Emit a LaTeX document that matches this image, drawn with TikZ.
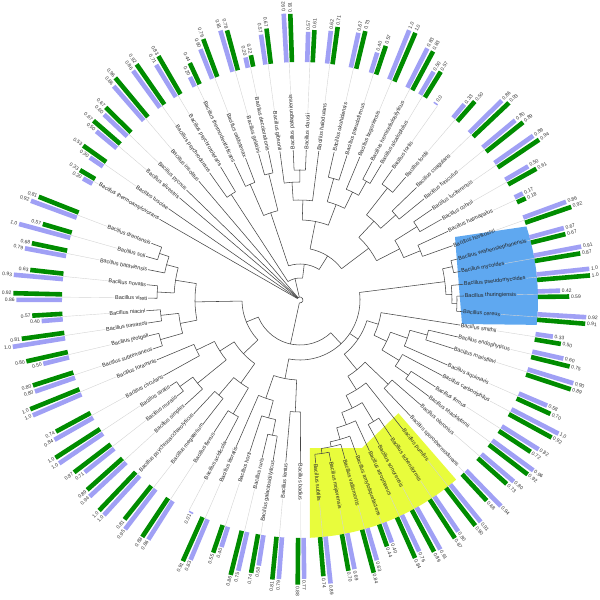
\documentclass[tikz,border=0pt]{standalone}
\usepackage{fontspec}
\setmainfont{Liberation Sans}
\definecolor{bargreen}{RGB}{0,140,0}
\definecolor{barlav}{RGB}{160,160,245}
\definecolor{cerblue}{RGB}{95,168,240}
\definecolor{subyel}{RGB}{232,252,60}
\definecolor{treegray}{RGB}{70,70,70}
\definecolor{conngray}{RGB}{212,212,212}
\newcommand\nd[4]{%
  \draw[tree] (#2:#1pt) arc[start angle=#2,end angle=#3,radius=#1pt];
  \foreach \qa/\qb in {#4}{\draw[tree] (\qa:#1pt) -- (\qa:\qb pt);}}
\begin{document}
\begin{tikzpicture}[x=1pt,y=1pt,
  tree/.style={draw=treegray,line width=0.55pt},
  conn/.style={draw=conngray,line width=0.4pt},
  lbl/.style={font=\fontsize{5.5}{6}\selectfont,text=black!85,inner sep=0.6pt},
  val/.style={font=\fontsize{5}{6}\selectfont,text=black!80,inner sep=0.8pt},
  gbar/.style={draw=bargreen,line width=4.6pt},
  lbar/.style={draw=barlav,line width=4.6pt}]
\useasboundingbox (-300,-300) rectangle (300,300);
\fill[white] (-300,-300) rectangle (300,300);
% clade shadings
\fill[cerblue] (155,63) -- (18:238pt) arc[start angle=18,end angle=-6,radius=238pt] -- (162,-24) -- cycle;
\fill[subyel] (10,-148) -- (62,-148) -- (-49:150pt) -- (-49:238pt) arc[start angle=-49,end angle=-87.6,radius=238pt] -- cycle;
% ---------- tree ----------
% left group
\nd{148}{159.1}{164.2}{159.1/159,164.2/160}
\nd{138}{161.65}{168.7}{161.65/148,168.7/155}
\nd{143}{174.3}{179.3}{174.3/154,179.3/152}
\nd{126}{165.18}{176.8}{165.18/138,176.8/143}
\nd{140}{184}{188.6}{184/154,188.6/154}
\nd{145}{193.3}{198.4}{193.3/155,198.4/155}
\nd{122}{186.3}{195.85}{186.3/140,195.85/145}
\nd{105}{170.99}{191.08}{170.99/126,191.08/122}
\nd{148}{213.5}{218}{213.5/156,218/156}
\nd{132}{215.75}{222.4}{215.75/148,222.4/156}
\nd{115}{202.7}{209}{202.7/155,209/156}
\nd{95}{205.85}{219.08}{205.85/115,219.08/132}
\nd{125}{227}{232}{227/156,232/157}
\nd{132}{237}{242.2}{237/158,242.2/160}
\nd{102}{229.5}{239.6}{229.5/125,239.6/132}
\nd{78}{212.46}{234.55}{212.46/95,234.55/102}
\nd{58}{181.04}{223.5}{181.04/105,223.5/78}
% bottom group
\nd{138}{256.5}{260.5}{256.5/162,260.5/162}
\nd{122}{251.7}{258.5}{251.7/160,258.5/138}
\nd{104}{246.5}{255.1}{246.5/160,255.1/122}
\nd{112}{265}{270.2}{265/163,270.2/163}
\nd{80}{250.8}{267.6}{250.8/104,267.6/112}
% subtilis group
\nd{155}{275.5}{280.8}{275.5/164,280.8/164}
\nd{150}{278.15}{285.8}{278.15/155,285.8/165}
\nd{145}{281.98}{290.1}{281.98/150,290.1/165}
\nd{133}{286.04}{294.7}{286.04/145,294.7/166}
\nd{142}{298.7}{303.7}{298.7/165,303.7/165}
\nd{120}{290.37}{301.2}{290.37/133,301.2/142}
\nd{106}{295.79}{308.5}{295.79/120,308.5/165}
\nd{122}{313.6}{319}{313.6/160,319/160}
\nd{90}{302.15}{316.3}{302.15/106,316.3/122}
% lower right
\nd{132}{323.2}{327.3}{323.2/161,327.3/161}
\nd{116}{325.25}{332}{325.25/132,332/161}
\nd{132}{342.4}{346.8}{342.4/161,346.8/162}
\nd{114}{336.2}{344.6}{336.2/161,344.6/132}
\nd{96}{328.63}{340.4}{328.63/116,340.4/114}
\nd{82}{334.52}{351.1}{334.52/96,351.1/162}
\nd{70}{309.23}{342.81}{309.23/90,342.81/82}
% cereus group
\nd{157}{355.9}{361.4}{355.9/163,361.4/164}
\nd{152}{358.65}{365.5}{358.65/157,365.5/164}
\nd{156}{370.1}{374.6}{370.1/163,374.6/163}
\nd{146}{362.08}{372.35}{362.08/152,372.35/156}
\nd{60}{259.2}{367.22}{259.2/80,326.02/70,367.22/146}
\nd{45}{202.27}{313.21}{202.27/58,313.21/60}
% upper right
\nd{130}{379.6}{384.9}{379.6/162,384.9/163}
\nd{138}{389.7}{394.5}{389.7/163,394.5/160}
\nd{112}{382.25}{392.1}{382.25/130,392.1/138}
\nd{128}{399.2}{404}{399.2/160,404/162}
\nd{142}{409.3}{414.7}{409.3/162,414.7/160}
\nd{108}{401.6}{412}{401.6/128,412/142}
\nd{86}{387.18}{406.8}{387.18/112,406.8/108}
% alkaliphiles
\nd{136}{419}{422.5}{419/158,422.5/156}
\nd{120}{420.75}{427.3}{420.75/136,427.3/155}
\nd{126}{432}{437}{432/152,437/152}
\nd{102}{424.03}{434.5}{424.03/120,434.5/126}
\nd{130}{447.6}{452.6}{447.6/150,452.6/150}
\nd{118}{450.1}{457.7}{450.1/130,457.7/150}
\nd{100}{442.8}{453.9}{442.8/150,453.9/118}
\nd{80}{429.27}{448.35}{429.27/102,448.35/100}
\nd{52}{396.99}{438.81}{396.99/86,438.81/80}
% top left
\nd{130}{462}{465.8}{462/152,465.8/152}
\nd{126}{471}{475.6}{471/152,475.6/152}
\nd{92}{463.9}{473.3}{463.9/130,473.3/126}
\nd{36}{417.9}{468.6}{417.9/52,468.6/92}
\nd{126}{480.8}{485.4}{480.8/155,485.4/156}
\nd{22}{443.25}{483.1}{443.25/36,483.1/126}
% root
\nd{3}{257.74}{510.1}{257.74/45,463.18/22,490.4/156,495.9/158,499.7/158,505.2/160,510.1/162}
% ---------- leaves, labels, bars ----------
\foreach \Ang/\Tip/\Nam/\Gv/\Lv [count=\k] in {
159.1/159/Bacillus drentensis/0.81/0.92,
164.2/160/Bacillus soli/0.57/1.0,
168.7/155/Bacillus bataviensis/0.68/0.79,
174.3/154/Bacillus novalis/0.63/0.93,
179.3/152/Bacillus vireti/0.92/0.86,
184/154/Bacillus niacini/0.57/0.40,
188.6/154/Bacillus fumarioli/0.81/1.0,
193.3/155/Bacillus jeotgali/0.80/0.50,
198.4/155/Bacillus subterraneus/0.80/0.80,
202.7/155/Bacillus foraminis/1.0/1.0,
209/156/Bacillus circulans/0.74/0.84,
213.5/156/Bacillus siralis/1.0/1.0,
218/156/Bacillus muralis/0.87/0.71,
222.4/156/Bacillus simplex/0.89/0.94,
227/156/Bacillus psychrosaccharolyticus/1.0/1.0,
232/157/Bacillus megaterium/0.81/0.95,
237/158/Bacillus flexus/0.88/0.86,
242.2/160/Bacillus acidicola/-1/0.01,
246.5/160/Bacillus litoralis/0.91/0.83,
251.7/160/Bacillus horti/0.55/0.40,
256.5/162/Bacillus ruris/0.86/0.75,
260.5/162/Bacillus galactosidilyticus/0.74/0.58,
265/163/Bacillus lentus/0.81/0.79,
270.2/163/Bacillus badius/0.88/0.77,
275.5/164/Bacillus subtilis/0.74/0.89,
280.8/164/Bacillus mojavensis/0.70/0.69,
285.8/165/Bacillus vallismortis/0.84/0.63,
290.1/165/Bacillus amyloliquefaciens/0.44/0.40,
294.7/166/Bacillus atrophaeus/0.84/0.76,
298.7/165/Bacillus sonorensis/0.89/0.91,
303.7/165/Bacillus licheniformis/0.87/0.80,
308.5/165/Bacillus pumilus/0.90/0.91,
313.6/160/Bacillus sporothermodurans/0.68/0.94,
319/160/Bacillus oleronius/0.73/0.80,
323.2/161/Bacillus shackletonii/0.92/0.96,
327.3/161/Bacillus firmus/0.72/0.82,
332/161/Bacillus carboniphilus/0.92/1.0,
336.2/161/Bacillus aquimaris/0.70/0.58,
342.4/161/Bacillus marisflavi/0.89/0.90,
346.8/162/Bacillus endophyticus/0.75/0.60,
351.1/162/Bacillus smithii/0.50/0.33,
355.9/163/Bacillus cereus/0.91/0.92,
361.4/164/Bacillus thuringiensis/0.59/0.42,
365.5/164/Bacillus pseudomycoides/1.0/1.0,
370.1/163/Bacillus mycoides/0.87/0.91,
374.6/163/Bacillus weihenstephanensis/0.67/0.67,
379.6/162/Bacillus horikoshii/0.92/0.86,
384.9/163/Bacillus halmapalus/0.18/0.17,
389.7/163/Bacillus cohnii/0.61/0.50,
394.5/160/Bacillus luciferensis/0.94/0.89,
399.2/160/Bacillus funiculus/0.89/0.80,
404/162/Bacillus coagulans/0.93/0.86,
409.3/162/Bacillus fordii/0.50/0.33,
414.7/160/Bacillus fortis/-1/0.0,
419/158/Bacillus alcalophilus/0.57/0.50,
422.5/156/Bacillus hemicellulosilyticus/0.83/0.83,
427.3/155/Bacillus bogoriensis/1.0/1.0,
432/152/Bacillus pseudofirmus/0.57/0.40,
437/152/Bacillus okuhidensis/0.73/0.67,
442.8/150/Bacillus halodurans/0.71/0.62,
447.6/150/Bacillus clausii/0.61/0.57,
452.6/150/Bacillus patagoniensis/0.91/0.92,
457.7/150/Bacillus gibsonii/0.67/0.57,
462/152/Bacillus decolorationis/0.22/0.20,
465.8/152/Bacillus gelatini/0.78/0.81,
471/152/Bacillus caldotenax/0.76/0.60,
475.6/152/Bacillus thermodenitrificans/0.44/0.20,
480.8/155/Bacillus psychrotolerans/0.83/0.71,
485.4/156/Bacillus psychrodurans/0.92/0.86,
490.4/156/Bacillus insolitus/0.96/0.86,
495.9/158/Bacillus pycnus/0.67/0.60,
499.7/158/Bacillus silvestris/0.67/0.50,
505.2/160/Bacillus tusciae/0.53/0.30,
510.1/162/Bacillus thermoamylovorans/0.33/0.20}{
  \pgfmathtruncatemacro\rs{(mod(\Ang+450,360)<185)?1:0}
  \coordinate (B\k) at (\Ang:238pt);
  \ifnum\rs=1
    \node[lbl,anchor=west,rotate=\Ang] (L\k) at (\Ang:\Tip pt) {\Nam};
    \draw[conn] (L\k.east) -- (B\k);
  \else
    \node[lbl,anchor=east,rotate=\Ang+180] (L\k) at (\Ang:\Tip pt) {\Nam};
    \draw[conn] (L\k.west) -- (B\k);
  \fi
  \pgfmathsetmacro\aL{\Ang+0.66}
  \pgfmathsetmacro\rL{238+max(53*\Lv,1.5)}
  \pgfmathsetmacro\rLt{\rL+0.8}
  \draw[lbar] (\aL:238pt) -- (\aL:\rL pt);
  \ifnum\rs=1
    \node[val,anchor=west,rotate=\aL] at (\aL:\rLt pt) {\Lv};
  \else
    \node[val,anchor=east,rotate=\aL+180] at (\aL:\rLt pt) {\Lv};
  \fi
  \ifdim\Gv pt<0pt\relax\else
    \pgfmathsetmacro\aG{\Ang-0.66}
    \pgfmathsetmacro\rG{238+53*\Gv}
    \pgfmathsetmacro\rGt{\rG+0.8}
    \draw[gbar] (\aG:238pt) -- (\aG:\rG pt);
    \ifnum\rs=1
      \node[val,anchor=west,rotate=\aG] at (\aG:\rGt pt) {\Gv};
    \else
      \node[val,anchor=east,rotate=\aG+180] at (\aG:\rGt pt) {\Gv};
    \fi
  \fi
}
\end{tikzpicture}
\end{document}
